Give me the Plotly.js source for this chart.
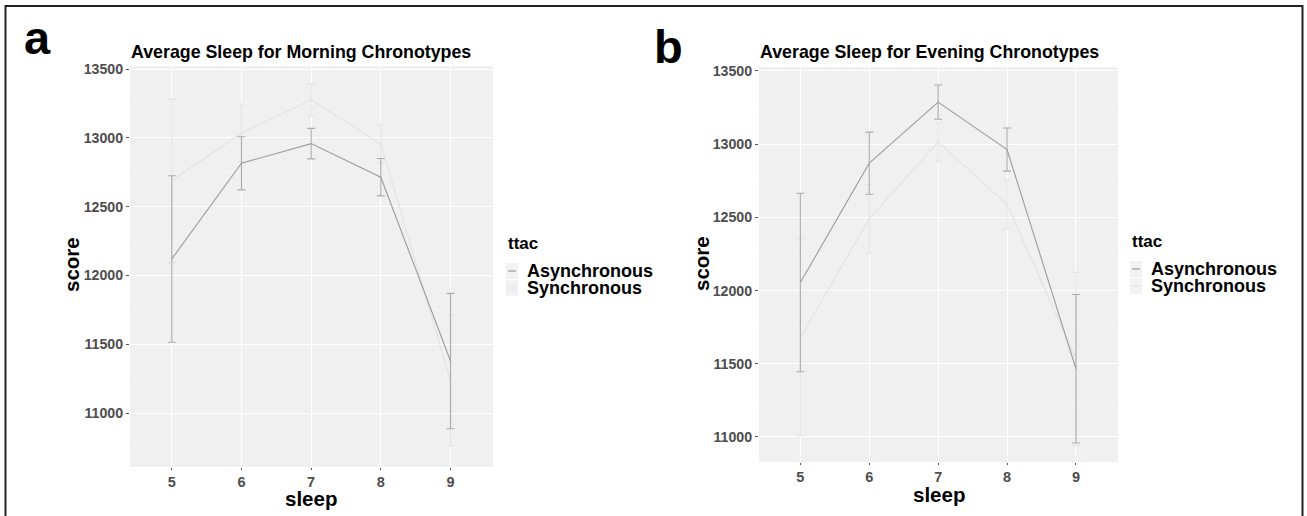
<!DOCTYPE html>
<html><head><meta charset="utf-8">
<script src="https://cdn.plot.ly/plotly-3.0.1.min.js"></script>
<style>html,body{margin:0;padding:0;background:#fff;}#chart{width:1307px;height:516px;}</style>
</head><body><div id="chart"></div>
<script>
// ---- data ----
const sleepHours = [5, 6, 7, 8, 9];
const groups = ["Asynchronous", "Synchronous"];
// Panel a: Morning chronotypes
const morningAsyncScore = [12120, 12815, 12958, 12714, 11378];
const morningAsyncErr   = [605, 193, 111, 136, 492];
const morningSyncScore  = [12688, 13035, 13276, 12956, 11235];
const morningSyncErr    = [595, 210, 116, 138, 475];
// Panel b: Evening chronotypes
const eveningAsyncScore = [12055, 12870, 13287, 12963, 11466];
const eveningAsyncErr   = [610, 212, 117, 147, 507];
const eveningSyncScore  = [11680, 12490, 13015, 12587, 11532];
const eveningSyncErr    = [670, 234, 131, 167, 592];
const yTicks = [11000, 11500, 12000, 12500, 13000, 13500];
const panelTitles = ["Average Sleep for Morning Chronotypes", "Average Sleep for Evening Chronotypes"];
const panelLetters = ["a", "b"];
const legendTitle = "ttac";
const xLabel = "sleep", yLabel = "score";

// ---- layout helpers ----
const W = 1307, H = 516;
const px = x => x / W;
const py = y => 1 - y / H;
const FONT = "Liberation Sans, Arial, Helvetica, sans-serif";
const asyncColor = "#9c9c9c", syncColor = "#e2e2e2";
const asyncErrColor = "#ababab", syncErrColor = "#e4e4e4";

function trace(y, err, name, color, ecolor, xa, ya) {
  return {
    x: sleepHours, y: y, name: name, type: "scatter", mode: "lines",
    line: {color: color, width: 1.1},
    error_y: {type: "data", array: err, visible: true, color: ecolor, thickness: 1.1, width: 4},
    xaxis: xa, yaxis: ya, showlegend: false, hoverinfo: "x+y+name"
  };
}
const data = [
  trace(morningSyncScore, morningSyncErr, groups[1], syncColor, syncErrColor, "x", "y"),
  trace(morningAsyncScore, morningAsyncErr, groups[0], asyncColor, asyncErrColor, "x", "y"),
  trace(eveningSyncScore, eveningSyncErr, groups[1], syncColor, syncErrColor, "x2", "y2"),
  trace(eveningAsyncScore, eveningAsyncErr, groups[0], asyncColor, asyncErrColor, "x2", "y2")
];

function xaxisDef(domain) {
  return {
    domain: domain, range: [4.4, 9.61], tickvals: sleepHours, ticktext: sleepHours.map(String),
    showgrid: true, gridcolor: "#ffffff", gridwidth: 1, zeroline: false, showline: false,
    ticks: "outside", ticklen: 2, tickcolor: "#555", tickwidth: 1,
    tickfont: {family: FONT, size: 14.5, color: "#4d4d4d", weight: "bold"}, fixedrange: true
  };
}
function yaxisDef(domain, range) {
  return {
    domain: domain, range: range, tickvals: yTicks, ticktext: yTicks.map(String),
    showgrid: true, gridcolor: "#ffffff", gridwidth: 1, zeroline: false, showline: false,
    minor: {dtick: 250, tick0: 10750, showgrid: true, gridcolor: "#f7f7f7", gridwidth: 0.6, ticks: ""},
    ticks: "outside", ticklen: 3, tickcolor: "#555", tickwidth: 1,
    tickfont: {family: FONT, size: 14.2, color: "#4d4d4d", weight: "bold"}, fixedrange: true
  };
}

const annotations = [];
const shapes = [];
function ann(text, x, y, size, opts) {
  annotations.push(Object.assign({
    text: text, x: px(x), y: py(y), xref: "paper", yref: "paper", showarrow: false,
    xanchor: "left", yanchor: "middle",
    font: {family: FONT, size: size, color: "#000", weight: "bold"}
  }, opts || {}));
}
// panel letters
ann(panelLetters[0], 22, 37, 47);
ann(panelLetters[1], 652, 46, 47);
// panel titles
ann(panelTitles[0], 129, 52, 17.8);
ann(panelTitles[1], 758, 52.5, 17.8);
// axis titles
ann(xLabel, 311, 498.5, 20.5, {xanchor: "center"});
ann(xLabel, 939, 494.5, 20.5, {xanchor: "center"});
ann(yLabel, 71, 265, 20.5, {xanchor: "center", textangle: -90});
ann(yLabel, 701, 264, 20.5, {xanchor: "center", textangle: -90});

// legends (drawn manually: compact ggplot-like rows)
function legend(x0, titleBase, rowYs) {
  ann(legendTitle, x0, titleBase - 6, 17);
  const cols = [asyncColor, syncColor];
  for (let i = 0; i < 2; i++) {
    const cy = rowYs[i];
    shapes.push({type: "rect", xref: "paper", yref: "paper", x0: px(x0), x1: px(x0 + 12),
      y0: py(cy + 8), y1: py(cy - 8), fillcolor: "#f2f2f2", line: {width: 0}, layer: "above"});
    shapes.push({type: "line", xref: "paper", yref: "paper", x0: px(x0 + 2), x1: px(x0 + 10),
      y0: py(cy), y1: py(cy), line: {color: cols[i], width: 1.2}, layer: "above"});
    ann(groups[i], x0 + 19, cy, 18);
  }
}
legend(506, 250, [271, 288]);
legend(1130, 248, [269, 286]);

// outer frame
shapes.push({type: "rect", xref: "paper", yref: "paper", x0: px(5.5), x1: px(1302.5),
  y0: py(520), y1: py(6), line: {color: "#222", width: 2}, fillcolor: "rgba(0,0,0,0)", layer: "above"});

const layout = {
  width: W, height: H, margin: {l: 0, r: 0, t: 0, b: 0},
  paper_bgcolor: "#ffffff", plot_bgcolor: "#f0f0f0",
  font: {family: FONT},
  xaxis: xaxisDef([px(130), px(493)]),
  yaxis: yaxisDef([py(467), py(66)], [10608, 13522]),
  xaxis2: Object.assign(xaxisDef([px(759), px(1118)]), {anchor: "y2"}),
  yaxis2: Object.assign(yaxisDef([py(462), py(67)], [10829, 13527]), {anchor: "x2"}),
  annotations: annotations, shapes: shapes, showlegend: false
};
layout.xaxis.anchor = "y";
layout.yaxis.anchor = "x";
Plotly.newPlot("chart", data, layout, {displayModeBar: false, staticPlot: true});
</script></body></html>
